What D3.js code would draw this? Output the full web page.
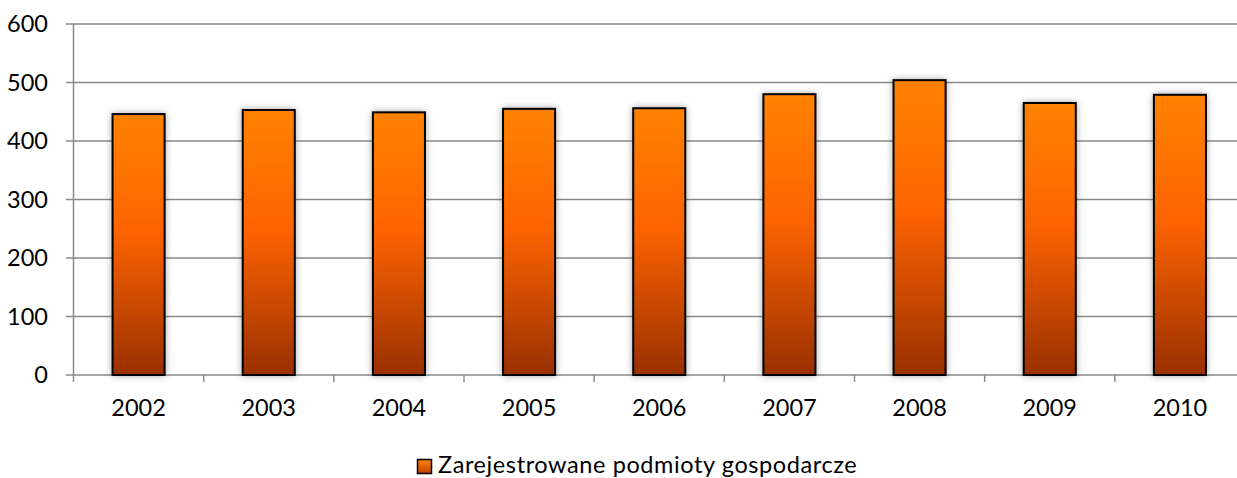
<!DOCTYPE html>
<html>
<head>
<meta charset="utf-8">
<script src="https://cdn.jsdelivr.net/npm/d3@7"></script>
<style>
  body { margin: 0; background: #fff; }
  text { font-family: Lato, "Open Sans", sans-serif; fill: #000; }
</style>
</head>
<body>
<svg id="chart" width="1237" height="478"></svg>
<script>
// data
const years = ["2002", "2003", "2004", "2005", "2006", "2007", "2008", "2009", "2010"];
const values = [446, 453, 449, 455, 456, 480, 504, 465, 479];
const yTicks = [0, 100, 200, 300, 400, 500, 600];
const seriesName = "Zarejestrowane podmioty gospodarcze";

const svg = d3.select("#chart");
const plotLeft = 73.5, plotRight = 1245, plotTop = 24, plotBottom = 375;
const fontSize = "23.5px";

const x = d3.scaleBand().domain(years).range([plotLeft, plotRight]).paddingInner(0).paddingOuter(0);
const y = d3.scaleLinear().domain([0, 600]).range([plotBottom, plotTop]);

const defs = svg.append("defs");
const grad = defs.append("linearGradient")
    .attr("id", "barGrad")
    .attr("x1", 0).attr("y1", 0).attr("x2", 0).attr("y2", 1);
grad.append("stop").attr("offset", "0%").attr("stop-color", "#ff8206");
grad.append("stop").attr("offset", "45%").attr("stop-color", "#fd6302");
grad.append("stop").attr("offset", "100%").attr("stop-color", "#993000");

const legGrad = defs.append("linearGradient")
    .attr("id", "legGrad")
    .attr("x1", 0).attr("y1", 0).attr("x2", 0).attr("y2", 1);
legGrad.append("stop").attr("offset", "0%").attr("stop-color", "#ff8206");
legGrad.append("stop").attr("offset", "100%").attr("stop-color", "#c24200");

const shadow = defs.append("filter").attr("id", "shadow")
    .attr("x", "-30%").attr("y", "-10%").attr("width", "160%").attr("height", "120%");
shadow.append("feGaussianBlur").attr("in", "SourceAlpha").attr("stdDeviation", 3.5).attr("result", "blur");
shadow.append("feComponentTransfer").attr("in", "blur").attr("result", "soft")
    .append("feFuncA").attr("type", "linear").attr("slope", 0.35);
const merge = shadow.append("feMerge");
merge.append("feMergeNode").attr("in", "soft");
merge.append("feMergeNode").attr("in", "SourceGraphic");

// gridlines
svg.append("g")
    .selectAll("line")
    .data(yTicks)
    .enter()
    .append("line")
    .attr("x1", plotLeft - 7.5)
    .attr("x2", plotRight)
    .attr("y1", d => y(d))
    .attr("y2", d => y(d))
    .attr("stroke", "#8a8a8a")
    .attr("stroke-width", 1.5);

// y axis
svg.append("line")
    .attr("x1", plotLeft).attr("x2", plotLeft)
    .attr("y1", plotTop).attr("y2", plotBottom)
    .attr("stroke", "#8a8a8a").attr("stroke-width", 1.5);

svg.append("g")
    .selectAll("text")
    .data(yTicks)
    .enter()
    .append("text")
    .attr("x", 48)
    .attr("y", d => y(d))
    .attr("dy", "0.36em")
    .attr("text-anchor", "end")
    .style("font-size", fontSize)
    .text(d => d);

// category ticks
const boundaries = years.map(d => x(d)).concat([plotRight]);
svg.append("g")
    .selectAll("line")
    .data(boundaries)
    .enter()
    .append("line")
    .attr("x1", d => d).attr("x2", d => d)
    .attr("y1", plotBottom).attr("y2", plotBottom + 7)
    .attr("stroke", "#8a8a8a").attr("stroke-width", 1.5);

// bars
const barW = x.bandwidth() * 0.4;
svg.append("g")
    .selectAll("rect")
    .data(values)
    .enter()
    .append("rect")
    .attr("class", "bar")
    .attr("x", (d, i) => x(years[i]) + (x.bandwidth() - barW) / 2)
    .attr("y", d => y(d))
    .attr("width", barW)
    .attr("height", d => y(0) - y(d))
    .attr("fill", "url(#barGrad)")
    .attr("stroke", "#000")
    .attr("stroke-width", 2)
    .attr("filter", "url(#shadow)");

// x labels
svg.append("g")
    .selectAll("text")
    .data(years)
    .enter()
    .append("text")
    .attr("x", d => x(d) + x.bandwidth() / 2)
    .attr("y", 416)
    .attr("text-anchor", "middle")
    .style("font-size", fontSize)
    .text(d => d);

// legend
const legend = svg.append("g");
legend.append("rect")
    .attr("x", 417.5).attr("y", 459.5)
    .attr("width", 14).attr("height", 14)
    .attr("fill", "url(#legGrad)")
    .attr("stroke", "#000").attr("stroke-width", 1.5);
legend.append("text")
    .attr("x", 438)
    .attr("y", 473)
    .style("font-size", fontSize)
    .style("letter-spacing", "0.6px")
    .text(seriesName);
</script>
</body>
</html>
